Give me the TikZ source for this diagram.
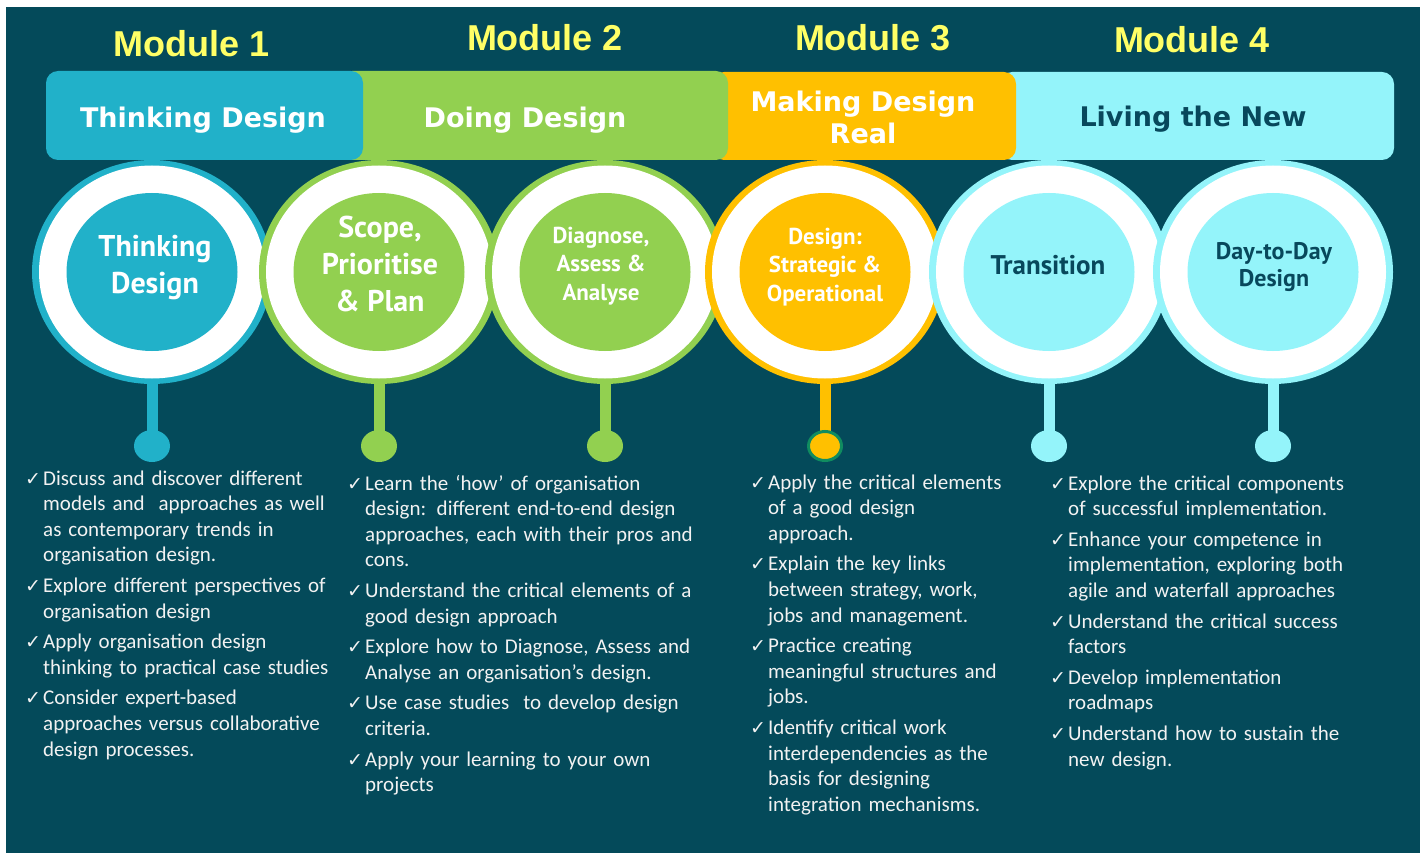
\documentclass[tikz,border=0pt]{standalone}
\usepackage{fontspec}
\setmainfont{Carlito}
\newfontfamily\headfont{Liberation Sans}
\newfontfamily\bannerfont{DejaVu Sans}
\newfontfamily\ringfont{PT Sans}
\newfontfamily\tickfont{DejaVu Sans}
\usetikzlibrary{shapes.geometric}
\definecolor{deepteal}{RGB}{4,74,90}
\definecolor{thinkblue}{RGB}{33,177,201}
\definecolor{doinggreen}{RGB}{146,208,80}
\definecolor{realgold}{RGB}{255,192,0}
\definecolor{livingcyan}{RGB}{148,244,250}
\definecolor{modyellow}{RGB}{255,255,102}
\definecolor{inktext}{RGB}{8,72,92}
\definecolor{bodytext}{RGB}{242,242,242}
\definecolor{dotrim}{RGB}{16,140,96}
\newcommand{\chkitem}[1]{\hangindent=18pt\hangafter=1\noindent\makebox[18pt][l]{\tickfont\fontsize{19}{19}\selectfont ✓}#1\par\vspace{5pt}}

\begin{document}
\begin{tikzpicture}[x=1pt, y=-1pt,
  module/.style={font=\headfont\bfseries\fontsize{36}{36}\selectfont, text=modyellow, anchor=base, inner sep=0},
  banner/.style={rectangle, rounded corners=12pt, minimum height=89, inner sep=0, outer sep=0, anchor=north west},
  bannertext/.style={font=\bannerfont\bfseries\fontsize{27}{32}\selectfont, text=white, align=center, inner sep=0},
  ringout/.style={ellipse, minimum width=240, minimum height=224, inner sep=0, outer sep=0},
  ringwhite/.style={ellipse, fill=white, minimum width=226, minimum height=213, inner sep=0, outer sep=0},
  disc/.style={ellipse, minimum width=171, minimum height=158, inner sep=0, outer sep=0},
  stem/.style={line width=11pt},
  knob/.style={ellipse, minimum width=36, minimum height=32, inner sep=0, outer sep=0},
  bigring/.style={font=\ringfont\bfseries\fontsize{30}{37}\selectfont, text=white, align=center, inner sep=0},
  smallring/.style={font=\ringfont\bfseries\fontsize{23}{28.4}\selectfont, text=white, align=center, inner sep=0},
  points/.style={text width=380, text=bodytext, font=\fontsize{21}{25.6}\selectfont, align=left, inner sep=0, anchor=base west}]
\useasboundingbox (0,0) rectangle (1425,853);
\fill[deepteal] (6,7) rectangle (1420,853);

\node[ringout, fill=thinkblue] (ring1) at (152,272) {};
\node[ringwhite] (halo1) at (ring1) {};
\node[disc, fill=thinkblue] (disc1) at (ring1) {};
\node[ringout, fill=doinggreen] (ring2) at (379,272) {};
\node[ringwhite] (halo2) at (ring2) {};
\node[disc, fill=doinggreen] (disc2) at (ring2) {};
\node[ringout, fill=doinggreen] (ring3) at (605,272) {};
\node[ringwhite] (halo3) at (ring3) {};
\node[disc, fill=doinggreen] (disc3) at (ring3) {};
\node[ringout, fill=realgold] (ring4) at (825,272) {};
\node[ringwhite] (halo4) at (ring4) {};
\node[disc, fill=realgold] (disc4) at (ring4) {};
\node[ringout, fill=livingcyan] (ring5) at (1049,272) {};
\node[ringwhite] (halo5) at (ring5) {};
\node[disc, fill=livingcyan] (disc5) at (ring5) {};
\node[ringout, fill=livingcyan] (ring6) at (1273,272) {};
\node[ringwhite] (halo6) at (ring6) {};
\node[disc, fill=livingcyan] (disc6) at (ring6) {};

\coordinate (k1) at (152,446);
\coordinate (k2) at (379,446);
\coordinate (k3) at (605,446);
\coordinate (k4) at (825,446);
\coordinate (k5) at (1049,446);
\coordinate (k6) at (1273,446);
\draw[stem, thinkblue] (ring1.south) -- (k1);
\draw[stem, doinggreen] (ring2.south) -- (k2);
\draw[stem, doinggreen] (ring3.south) -- (k3);
\draw[stem, realgold] (ring4.south) -- (k4);
\draw[stem, livingcyan] (ring5.south) -- (k5);
\draw[stem, livingcyan] (ring6.south) -- (k6);
\node[knob, fill=thinkblue] (knob1) at (k1) {};
\node[knob, fill=doinggreen] (knob2) at (k2) {};
\node[knob, fill=doinggreen] (knob3) at (k3) {};
\node[knob, fill=realgold, draw=dotrim, line width=3pt, minimum width=33, minimum height=29] (knob4) at (k4) {};
\node[knob, fill=livingcyan] (knob5) at (k5) {};
\node[knob, fill=livingcyan] (knob6) at (k6) {};

\node[banner, fill=livingcyan, minimum width=394, minimum height=88] (band4) at (1000,72) {};
\node[banner, fill=realgold, minimum width=304, minimum height=88] (band3) at (712,72) {};
\node[banner, fill=doinggreen, minimum width=388] (band2) at (340,71) {};
\node[banner, fill=thinkblue, minimum width=317] (band1) at (46,71) {};

\node[module] (mod1) at (192,57) {Module 1};
\node[module] (mod2) at (545,51) {Module 2};
\node[module] (mod3) at (873,51) {Module 3};
\node[module] (mod4) at (1192,53) {Module 4};

\node[bannertext, anchor=base] (bt1) at (203,128) {Thinking Design};
\node[bannertext, anchor=base] (bt2) at (525,128) {Doing Design};
\node[bannertext] (bt3) at (863,117) {Making Design\\Real};
\node[bannertext, anchor=base, text=inktext] (bt4) at (1193,127) {Living the New};

\node[bigring] (rt1) at (155,268) {Thinking\\Design};
\node[bigring] (rt2) at (380,264) {Scope,\\Prioritise\\\& Plan};
\node[smallring] (rt3) at (601,266) {Diagnose,\\Assess \&\\Analyse};
\node[smallring] (rt4) at (825,267) {Design:\\Strategic \&\\Operational};
\node[bigring, anchor=base, text=inktext, font=\ringfont\bfseries\fontsize{27}{27}\selectfont] (rt5) at (1048,275) {Transition};
\node[smallring, text=inktext, font=\ringfont\bfseries\fontsize{24}{26.7}\selectfont] (rt6) at (1274,267) {Day-to-Day\\Design};

\node[points] (col1) at (25,485) {\chkitem{Discuss and discover different\newline models and\ \ approaches as well\newline as contemporary trends in\newline organisation design.}\chkitem{Explore different perspectives of\newline organisation design}\chkitem{Apply organisation design\newline thinking to practical case studies}\chkitem{Consider expert-based\newline approaches versus collaborative\newline design processes.}};
\node[points] (col2) at (347,490) {\chkitem{Learn the ‘how’ of organisation\newline design: different end-to-end design\newline approaches, each with their pros and\newline cons.}\chkitem{Understand the critical elements of a\newline good design approach}\chkitem{Explore how to Diagnose, Assess and\newline Analyse an organisation’s design.}\chkitem{Use case studies\ \ to develop design\newline criteria.}\chkitem{Apply your learning to your own\newline projects}};
\node[points] (col3) at (750,489) {\chkitem{Apply the critical elements\newline of a good design\newline approach.}\chkitem{Explain the key links\newline between strategy, work,\newline jobs and management.}\chkitem{Practice creating\newline meaningful structures and\newline jobs.}\chkitem{Identify critical work\newline interdependencies as the\newline basis for designing\newline integration mechanisms.}};
\node[points] (col4) at (1050,490) {\chkitem{Explore the critical components\newline of successful implementation.}\chkitem{Enhance your competence in\newline implementation, exploring both\newline agile and waterfall approaches}\chkitem{Understand the critical success\newline factors}\chkitem{Develop implementation\newline roadmaps}\chkitem{Understand how to sustain the\newline new design.}};
\end{tikzpicture}
\end{document}
